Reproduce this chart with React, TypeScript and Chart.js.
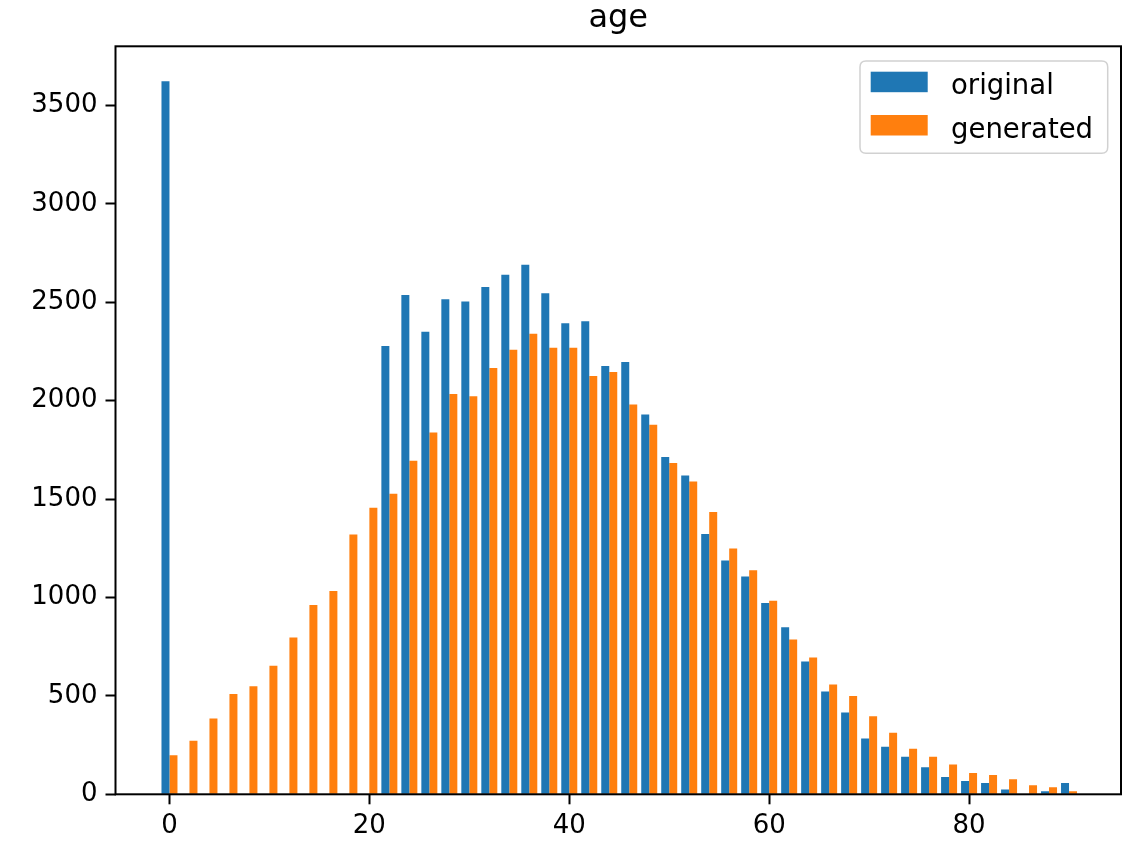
import React, { useEffect, useRef } from "react";
import { Chart, registerables } from "chart.js";

Chart.register(...registerables);

const chartTitle = "age";
const seriesNames = ["original", "generated"];
const seriesColors = ["#1f77b4", "#ff7f0e"];

// centres of the 2-year histogram bins (bins run from -1 to 91)
const binCenters = [
  0, 2, 4, 6, 8, 10, 12, 14, 16, 18, 20, 22, 24, 26, 28, 30, 32, 34, 36, 38, 40, 42, 44,
  46, 48, 50, 52, 54, 56, 58, 60, 62, 64, 66, 68, 70, 72, 74, 76, 78, 80, 82, 84, 86, 88, 90,
];

const originalCounts = [
  3623, 0, 0, 0, 0, 0, 0, 0, 0, 0, 0, 2278, 2536, 2350, 2515, 2504, 2577, 2639, 2690, 2546,
  2393, 2403, 2176, 2196, 1929, 1713, 1620, 1322, 1188, 1106, 972, 849, 675, 522, 416, 283,
  242, 191, 138, 88, 68, 57, 25, 0, 15, 57,
];

const generatedCounts = [
  199, 272, 385, 509, 549, 653, 796, 962, 1033, 1320, 1456, 1527, 1694, 1838, 2033, 2022,
  2166, 2259, 2340, 2269, 2269, 2125, 2146, 1980, 1877, 1683, 1589, 1434, 1249, 1138, 983,
  786, 695, 558, 499, 396, 313, 232, 191, 151, 108, 98, 76, 46, 36, 15,
];

const xTicks = [0, 20, 40, 60, 80];
const yTicks = [0, 500, 1000, 1500, 2000, 2500, 3000, 3500];

const FONT = "'DejaVu Sans', 'Liberation Sans', sans-serif";

export default function App() {
  const ref = useRef<HTMLCanvasElement>(null);

  useEffect(() => {
    if (!ref.current) return;

    const decorations = {
      id: "decorations",
      afterDraw(chart: any) {
        const ctx = chart.ctx as CanvasRenderingContext2D;
        const a = chart.chartArea;
        ctx.save();
        // axes frame
        ctx.strokeStyle = "#000";
        ctx.lineWidth = 2;
        ctx.strokeRect(a.left, a.top, a.right - a.left, a.bottom - a.top);

        // title
        ctx.fillStyle = "#000";
        ctx.font = `32px ${FONT}`;
        ctx.textAlign = "center";
        ctx.textBaseline = "alphabetic";
        ctx.fillText(chartTitle, (a.left + a.right) / 2, 27);

        // legend box
        const bx = 860, by = 61, bw = 247.7, bh = 92.3, r = 6;
        ctx.beginPath();
        ctx.moveTo(bx + r, by);
        ctx.lineTo(bx + bw - r, by);
        ctx.quadraticCurveTo(bx + bw, by, bx + bw, by + r);
        ctx.lineTo(bx + bw, by + bh - r);
        ctx.quadraticCurveTo(bx + bw, by + bh, bx + bw - r, by + bh);
        ctx.lineTo(bx + r, by + bh);
        ctx.quadraticCurveTo(bx, by + bh, bx, by + bh - r);
        ctx.lineTo(bx, by + r);
        ctx.quadraticCurveTo(bx, by, bx + r, by);
        ctx.closePath();
        ctx.fillStyle = "rgba(255,255,255,0.8)";
        ctx.fill();
        ctx.strokeStyle = "rgba(204,204,204,0.9)";
        ctx.lineWidth = 1.5;
        ctx.stroke();

        const rowsTop = [71.7, 115];
        ctx.font = `27.5px ${FONT}`;
        ctx.textAlign = "left";
        ctx.textBaseline = "alphabetic";
        seriesNames.forEach((name, i) => {
          ctx.fillStyle = seriesColors[i];
          ctx.fillRect(870.7, rowsTop[i], 57, 20.5);
          ctx.fillStyle = "#000";
          ctx.fillText(name, 951, rowsTop[i] + 22.5);
        });
        ctx.restore();
      },
    };

    const chart = new Chart(ref.current, {
      type: "bar",
      data: {
        datasets: [
          {
            label: seriesNames[0],
            data: binCenters.map((x, i) => ({ x, y: originalCounts[i] })),
            backgroundColor: seriesColors[0],
            borderWidth: 0,
            categoryPercentage: 0.8,
            barPercentage: 1,
          },
          {
            label: seriesNames[1],
            data: binCenters.map((x, i) => ({ x, y: generatedCounts[i] })),
            backgroundColor: seriesColors[1],
            borderWidth: 0,
            categoryPercentage: 0.8,
            barPercentage: 1,
          },
        ],
      },
      options: {
        animation: false,
        responsive: false,
        maintainAspectRatio: false,
        layout: { padding: { top: 46.3, right: 3, left: 0, bottom: 0 } },
        plugins: {
          legend: { display: false },
          title: { display: false },
          tooltip: { enabled: false },
        },
        scales: {
          x: {
            type: "linear",
            min: -5.4,
            max: 95.2,
            offset: false,
            afterBuildTicks: (s: any) => {
              s.ticks = xTicks.map((v) => ({ value: v }));
            },
            afterFit: (s: any) => {
              s.height = 49.7;
            },
            grid: {
              display: true,
              offset: false,
              drawOnChartArea: false,
              drawTicks: true,
              tickLength: 10,
              tickColor: "#000",
              tickWidth: 2,
            },
            border: { display: false },
            ticks: {
              color: "#000",
              font: { family: FONT, size: 26 },
              padding: 6,
              maxRotation: 0,
              autoSkip: false,
              callback: (v: any) => String(v),
            },
          },
          y: {
            type: "linear",
            min: 0,
            max: 3800,
            afterBuildTicks: (s: any) => {
              s.ticks = yTicks.map((v) => ({ value: v }));
            },
            afterFit: (s: any) => {
              s.width = 115.5;
            },
            grid: {
              display: true,
              offset: false,
              drawOnChartArea: false,
              drawTicks: true,
              tickLength: 10,
              tickColor: "#000",
              tickWidth: 2,
            },
            border: { display: false },
            ticks: {
              color: "#000",
              font: { family: FONT, size: 26 },
              padding: 8,
              autoSkip: false,
              callback: (v: any) => String(v),
            },
          },
        },
      },
      plugins: [decorations],
    });

    return () => chart.destroy();
  }, []);

  return (
    <div
      style={{
        position: "absolute",
        left: 0,
        top: 0,
        width: 1124,
        height: 844,
        background: "#fff",
      }}
    >
      <canvas ref={ref} width={1124} height={844} style={{ display: "block" }} />
    </div>
  );
}
